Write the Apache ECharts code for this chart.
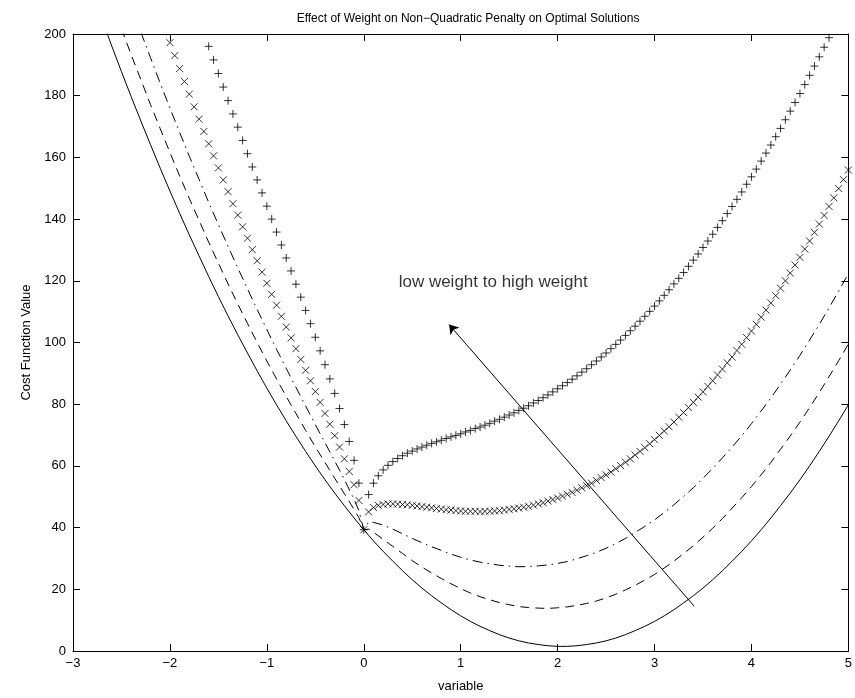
<!DOCTYPE html>
<html>
<head>
<meta charset="utf-8">
<title>Effect of Weight on Non-Quadratic Penalty on Optimal Solutions</title>
<script src="https://cdn.jsdelivr.net/npm/echarts@6/dist/echarts.min.js"></script>
</head>
<body style="margin:0">
<div id="chart" style="width:855px;height:698px;"></div>
<script>
// x positions of the three plain curves
var lineX = [-2.7, -2.6, -2.5, -2.4, -2.3, -2.2, -2.1, -2.0, -1.9, -1.8,
  -1.7, -1.6, -1.5, -1.4, -1.3, -1.2, -1.1, -1.0, -0.9, -0.8,
  -0.7, -0.6, -0.5, -0.4, -0.3, -0.2, -0.1, -0.05, 0, 0.05,
  0.1, 0.2, 0.3, 0.4, 0.5, 0.6, 0.7, 0.8, 0.9, 1.0,
  1.1, 1.2, 1.3, 1.4, 1.5, 1.6, 1.7, 1.8, 1.9, 2.0,
  2.1, 2.2, 2.3, 2.4, 2.5, 2.6, 2.7, 2.8, 2.9, 3.0,
  3.1, 3.2, 3.3, 3.4, 3.5, 3.6, 3.7, 3.8, 3.9, 4.0,
  4.1, 4.2, 4.3, 4.4, 4.5, 4.6, 4.7, 4.8, 4.9, 5.0];

var solidY = [204.6, 196.1, 187.8, 179.7, 171.8, 164.1, 156.5, 149.1, 141.9, 134.9,
  128.1, 121.4, 114.9, 108.6, 102.5, 96.6, 90.8, 85.2, 79.8, 74.6,
  69.6, 64.7, 60.0, 55.5, 51.2, 47.1, 43.1, 41.2, 39.3, 37.5,
  35.7, 32.3, 29.1, 26.0, 23.1, 20.4, 17.9, 15.6, 13.4, 11.4,
  9.6, 8.0, 6.6, 5.3, 4.2, 3.3, 2.6, 2.1, 1.7, 1.5,
  1.5, 1.7, 2.1, 2.6, 3.3, 4.2, 5.3, 6.6, 8.0, 9.6,
  11.4, 13.4, 15.6, 17.9, 20.4, 23.1, 26.0, 29.1, 32.3, 35.7,
  39.3, 43.1, 47.1, 51.2, 55.5, 60.0, 64.7, 69.6, 74.6, 79.8];

var dashedY = [null, null, 201.7, 193.3, 185.2, 177.1, 169.3, 161.6, 154.0, 146.7,
  139.6, 132.5, 125.7, 119.0, 112.5, 106.2, 100.0, 94.0, 88.2, 82.5,
  77.0, 71.5, 66.2, 61.1, 56.0, 51.0, 45.9, 43.2, 39.3, 39.5,
  38.5, 36.2, 33.9, 31.6, 29.3, 27.2, 25.3, 23.5, 21.8, 20.2,
  18.8, 17.6, 16.6, 15.7, 15.0, 14.4, 14.1, 13.9, 13.8, 14.0,
  14.3, 14.8, 15.4, 16.2, 17.2, 18.4, 19.8, 21.3, 23.0, 24.8,
  26.9, 29.1, 31.6, 34.1, 36.9, 39.8, 42.9, 46.3, 49.7, 53.3,
  57.1, 61.1, 65.4, 69.7, 74.2, 78.9, 83.8, 88.9, 94.1, 99.5];

var dashDotY = [null, null, null, null, 200.6, 192.3, 184.0, 176.0, 168.1, 160.4,
  152.9, 145.4, 138.2, 131.1, 124.2, 117.4, 110.7, 104.2, 97.8, 91.6,
  85.5, 79.4, 73.4, 67.5, 61.6, 55.6, 49.1, 45.5, 39.3, 41.8,
  41.7, 40.8, 39.5, 38.0, 36.5, 35.1, 33.8, 32.6, 31.4, 30.4,
  29.5, 28.8, 28.3, 27.8, 27.5, 27.3, 27.4, 27.6, 27.9, 28.4,
  29.0, 29.9, 30.9, 32.0, 33.3, 34.8, 36.5, 38.4, 40.4, 42.5,
  44.9, 47.4, 50.1, 52.9, 56.0, 59.2, 62.6, 66.1, 69.8, 73.7,
  77.8, 82.0, 86.5, 91.1, 95.8, 100.8, 105.9, 111.2, 116.7, 122.3];

// x positions of the two marker curves
var markX = [-2, -1.95, -1.9, -1.85, -1.8, -1.75, -1.7, -1.65, -1.6, -1.55,
  -1.5, -1.45, -1.4, -1.35, -1.3, -1.25, -1.2, -1.15, -1.1, -1.05,
  -1, -0.95, -0.9, -0.85, -0.8, -0.75, -0.7, -0.65, -0.6, -0.55,
  -0.5, -0.45, -0.4, -0.35, -0.3, -0.25, -0.2, -0.15, -0.1, -0.05,
  0, 0.05, 0.1, 0.15, 0.2, 0.25, 0.3, 0.35, 0.4, 0.45,
  0.5, 0.55, 0.6, 0.65, 0.7, 0.75, 0.8, 0.85, 0.9, 0.95,
  1, 1.05, 1.1, 1.15, 1.2, 1.25, 1.3, 1.35, 1.4, 1.45,
  1.5, 1.55, 1.6, 1.65, 1.7, 1.75, 1.8, 1.85, 1.9, 1.95,
  2, 2.05, 2.1, 2.15, 2.2, 2.25, 2.3, 2.35, 2.4, 2.45,
  2.5, 2.55, 2.6, 2.65, 2.7, 2.75, 2.8, 2.85, 2.9, 2.95,
  3, 3.05, 3.1, 3.15, 3.2, 3.25, 3.3, 3.35, 3.4, 3.45,
  3.5, 3.55, 3.6, 3.65, 3.7, 3.75, 3.8, 3.85, 3.9, 3.95,
  4, 4.05, 4.1, 4.15, 4.2, 4.25, 4.3, 4.35, 4.4, 4.45,
  4.5, 4.55, 4.6, 4.65, 4.7, 4.75, 4.8, 4.85, 4.9, 4.95,
  5];

var crossY = [197.2, 193.0, 188.8, 184.6, 180.5, 176.4, 172.4, 168.4, 164.4, 160.5,
  156.6, 152.7, 148.9, 145.0, 141.3, 137.5, 133.8, 130.1, 126.5, 122.8,
  119.2, 115.6, 112.1, 108.5, 105.0, 101.5, 98.0, 94.5, 91.0, 87.6,
  84.1, 80.6, 77.0, 73.5, 69.8, 66.1, 62.3, 58.2, 53.9, 48.8,
  39.3, 45.1, 46.5, 47.2, 47.5, 47.7, 47.7, 47.6, 47.5, 47.4,
  47.2, 47.0, 46.8, 46.6, 46.4, 46.2, 46.0, 45.8, 45.7, 45.5,
  45.4, 45.3, 45.3, 45.3, 45.2, 45.3, 45.3, 45.4, 45.5, 45.7,
  45.9, 46.1, 46.3, 46.6, 46.9, 47.3, 47.7, 48.1, 48.6, 49.1,
  49.6, 50.2, 50.8, 51.4, 52.1, 52.9, 53.6, 54.4, 55.3, 56.2,
  57.1, 58.0, 59.1, 60.1, 61.2, 62.3, 63.5, 64.7, 65.9, 67.2,
  68.5, 69.9, 71.3, 72.7, 74.2, 75.8, 77.3, 78.9, 80.6, 82.3,
  84.0, 85.8, 87.6, 89.5, 91.4, 93.4, 95.3, 97.4, 99.4, 101.6,
  103.7, 105.9, 108.2, 110.5, 112.8, 115.2, 117.6, 120.0, 122.5, 125.1,
  127.6, 130.3, 132.9, 135.7, 138.4, 141.2, 144.1, 146.9, 149.9, 152.8,
  155.9];

var plusY = [null, null, null, null, null, null, null, null, 196.0, 191.6,
  187.2, 182.8, 178.4, 174.1, 169.8, 165.5, 161.2, 156.9, 152.7, 148.5,
  144.2, 140.0, 135.8, 131.6, 127.4, 123.2, 118.9, 114.7, 110.4, 106.1,
  101.7, 97.3, 92.8, 88.2, 83.5, 78.6, 73.4, 67.9, 61.8, 54.4,
  39.3, 50.7, 54.4, 56.8, 58.7, 60.2, 61.4, 62.4, 63.3, 64.1,
  64.8, 65.5, 66.1, 66.7, 67.3, 67.8, 68.3, 68.9, 69.4, 69.9,
  70.4, 71.0, 71.5, 72.1, 72.6, 73.2, 73.8, 74.5, 75.1, 75.8,
  76.5, 77.2, 78.0, 78.7, 79.5, 80.4, 81.2, 82.1, 83.0, 84.0,
  85.0, 86.0, 87.0, 88.1, 89.2, 90.4, 91.5, 92.8, 94.0, 95.3,
  96.6, 98.0, 99.4, 100.8, 102.3, 103.8, 105.3, 106.9, 108.5, 110.1,
  111.8, 113.5, 115.3, 117.1, 119.0, 120.8, 122.7, 124.7, 126.7, 128.7,
  130.8, 132.9, 135.1, 137.3, 139.5, 141.8, 144.1, 146.4, 148.8, 151.3,
  153.7, 156.2, 158.8, 161.4, 164.0, 166.7, 169.4, 172.2, 175.0, 177.8,
  180.7, 183.6, 186.6, 189.6, 192.6, 195.7, 198.8, null, null, null,
  null];

// annotation
var arrowFrom = [3.41, 14.5];
var arrowTo = [0.88, 105.8];
var noteAt = [0.36, 119.4];
var noteText = 'low weight to high weight';

var titleText = 'Effect of Weight on Non\u2212Quadratic Penalty on Optimal Solutions';
var xName = 'variable';
var yName = 'Cost Function Value';

function pairs(xs, ys) {
  var out = [];
  for (var i = 0; i < xs.length; i++) {
    if (ys[i] != null) out.push([xs[i], ys[i]]);
  }
  return out;
}

var font = "'Liberation Sans', Arial, sans-serif";
var black = '#000';

var chart = echarts.init(document.getElementById('chart'), null, { renderer: 'canvas' });

var tickStyle = { show: true, inside: true, length: 7, lineStyle: { color: black, width: 1 } };
var lineAx = { show: true, onZero: false, lineStyle: { color: black, width: 1 } };

var option = {
  animation: false,
  backgroundColor: '#fff',
  textStyle: { fontFamily: font },
  title: {
    text: titleText,
    left: 463,
    top: 8,
    textAlign: 'center',
    textStyle: { fontSize: 12, fontWeight: 'normal', color: black, fontFamily: font }
  },
  grid: { left: 73, right: 3, top: 34, bottom: 47, containLabel: false },
  xAxis: [
    {
      type: 'value', min: -3, max: 5, interval: 1, position: 'bottom',
      name: xName, nameLocation: 'middle', nameGap: 29,
      nameTextStyle: { fontSize: 13, color: black },
      axisLine: lineAx, axisTick: tickStyle, splitLine: { show: false },
      axisLabel: {
        fontSize: 13, color: black, margin: 6,
        formatter: function (v) { return String(v).replace('-', '\u2212'); }
      }
    },
    {
      type: 'value', min: -3, max: 5, interval: 1, position: 'top',
      axisLine: lineAx, axisTick: tickStyle, splitLine: { show: false },
      axisLabel: { show: false }
    }
  ],
  yAxis: [
    {
      type: 'value', min: 0, max: 200, interval: 20, position: 'left',
      name: yName, nameLocation: 'middle', nameGap: 38, nameRotate: 90,
      nameTextStyle: { fontSize: 13, color: black },
      axisLine: lineAx, axisTick: tickStyle, splitLine: { show: false },
      axisLabel: { fontSize: 13, color: black, margin: 7 }
    },
    {
      type: 'value', min: 0, max: 200, interval: 20, position: 'right',
      axisLine: lineAx, axisTick: tickStyle, splitLine: { show: false },
      axisLabel: { show: false }
    }
  ],
  series: [
    {
      name: 'solid', type: 'line', data: pairs(lineX, solidY),
      showSymbol: false, lineStyle: { color: black, width: 1, type: 'solid' }
    },
    {
      name: 'dashed', type: 'line', data: pairs(lineX, dashedY),
      showSymbol: false, lineStyle: { color: black, width: 1, type: [9, 6] }
    },
    {
      name: 'dashdot', type: 'line', data: pairs(lineX, dashDotY),
      showSymbol: false, lineStyle: { color: black, width: 1, type: [10, 5, 1.5, 5] }
    },
    {
      name: 'cross', type: 'scatter', data: pairs(markX, crossY),
      symbol: 'path://M0,0L10,10M10,0L0,10', symbolSize: 7,
      itemStyle: { color: 'none', borderColor: black, borderWidth: 1 }
    },
    {
      name: 'plus', type: 'scatter', data: pairs(markX, plusY),
      symbol: 'path://M5,0L5,10M0,5L10,5', symbolSize: 8,
      itemStyle: { color: 'none', borderColor: black, borderWidth: 1 }
    },
    {
      name: 'arrow', type: 'lines', coordinateSystem: 'cartesian2d',
      data: [{ coords: [arrowFrom, arrowTo] }],
      symbol: ['none', 'arrow'], symbolSize: 9,
      lineStyle: { color: black, width: 1, opacity: 1, curveness: 0 },
      z: 5
    },
    {
      name: 'note', type: 'scatter', data: [noteAt], symbolSize: 0,
      label: {
        show: true, position: 'right', distance: 0, formatter: noteText,
        fontSize: 17, color: black, fontFamily: font
      }
    }
  ]
};

chart.setOption(option);
</script>
</body>
</html>
